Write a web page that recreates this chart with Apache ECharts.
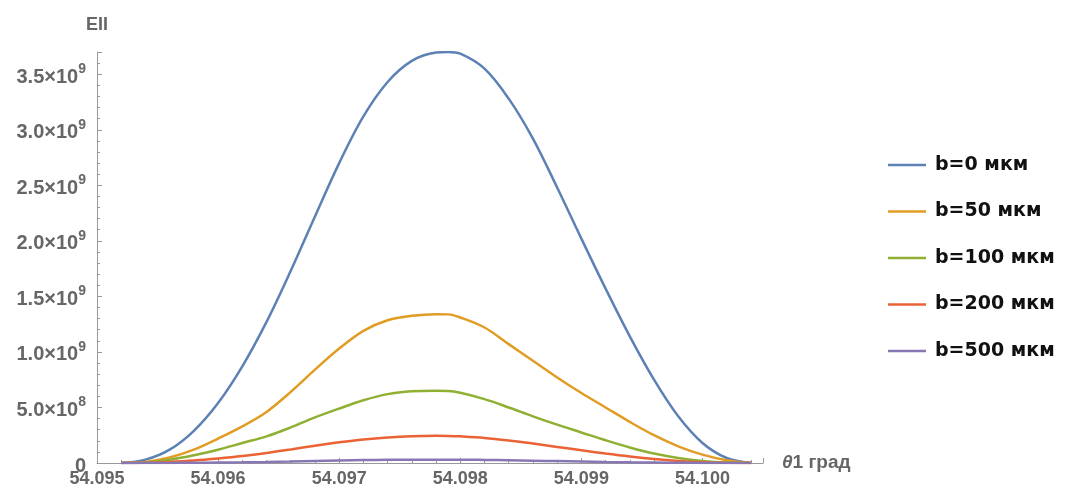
<!DOCTYPE html>
<html>
<head>
<meta charset="utf-8">
<script src="https://cdn.jsdelivr.net/npm/echarts@6/dist/echarts.min.js"></script>
<style>
  html, body { margin: 0; padding: 0; background: #fff; }
  #chart { width: 1072px; height: 488px; }
</style>
</head>
<body>
<div id="chart"></div>
<script>
// θ1, degrees
const theta = [
  54.0952, 54.0954, 54.0956, 54.0958, 54.0960, 54.0962, 54.0964, 54.0966, 54.0968,
  54.0970, 54.0972, 54.0974, 54.0976, 54.0978, 54.0979, 54.0980, 54.0982, 54.0984, 54.0986,
  54.0988, 54.0990, 54.0992, 54.0994, 54.0996, 54.0998, 54.1000, 54.1002, 54.1004
];
// values in units of 10^9
const b0 = [0, 0.03, 0.12, 0.29, 0.54, 0.87, 1.27, 1.73, 2.22, 2.70, 3.12, 3.43, 3.62, 3.695, 3.70,
  3.685, 3.55, 3.28, 2.92, 2.48, 2.02, 1.57, 1.14, 0.75, 0.42, 0.18, 0.045, 0];
const b50 = [0, 0.01, 0.05, 0.12, 0.22, 0.33, 0.46, 0.64, 0.84, 1.03, 1.19, 1.285, 1.325, 1.34, 1.338,
  1.31, 1.22, 1.07, 0.92, 0.77, 0.63, 0.50, 0.37, 0.25, 0.15, 0.075, 0.025, 0];
const b100 = [0, 0.005, 0.03, 0.07, 0.12, 0.18, 0.24, 0.32, 0.41, 0.49, 0.565, 0.62, 0.645, 0.65, 0.648,
  0.632, 0.575, 0.50, 0.42, 0.345, 0.275, 0.205, 0.14, 0.085, 0.045, 0.018, 0.004, 0];
const b200 = [0, 0.002, 0.01, 0.022, 0.04, 0.062, 0.09, 0.122, 0.155, 0.186, 0.212, 0.23, 0.241, 0.245, 0.244,
  0.24, 0.226, 0.203, 0.175, 0.145, 0.115, 0.085, 0.058, 0.035, 0.018, 0.007, 0.002, 0];
const b500 = [0, 0, 0.001, 0.002, 0.004, 0.006, 0.009, 0.013, 0.018, 0.022, 0.026, 0.029, 0.03, 0.03, 0.03,
  0.03, 0.028, 0.025, 0.021, 0.017, 0.013, 0.009, 0.006, 0.004, 0.002, 0.001, 0, 0];

const names = ['b=0 мкм', 'b=50 мкм', 'b=100 мкм', 'b=200 мкм', 'b=500 мкм'];
const colors = ['#5E81B5', '#E19C24', '#8FB032', '#EB6235', '#8778B3'];
const values = [b0, b50, b100, b200, b500];

const font = '"Liberation Sans", Arial, sans-serif';
const gray = '#666';
const axisGray = '#999';

function pairs(ys) {
  return theta.map(function (t, i) { return [t, ys[i]]; });
}

const series = names.map(function (n, i) {
  return {
    name: n,
    type: 'line',
    data: pairs(values[i]),
    smooth: 0.35,
    symbol: 'none',
    lineStyle: { width: 2.5, color: colors[i] },
    itemStyle: { color: colors[i] }
  };
});

const option = {
  animation: false,
  backgroundColor: '#fff',
  grid: { left: 97, right: 309, top: 52, bottom: 24 },
  legend: {
    orient: 'vertical',
    left: 883,
    top: 150,
    icon: 'rect',
    itemWidth: 38,
    itemHeight: 2.5,
    itemGap: 26.5,
    data: names,
    textStyle: {
      fontFamily: '"DejaVu Sans", sans-serif',
      fontWeight: 'bold',
      fontSize: 19,
      lineHeight: 20,
      color: '#111',
      padding: [0, 0, 0, 4]
    }
  },
  xAxis: {
    type: 'value',
    min: 54.095,
    max: 54.1005,
    interval: 0.001,
    name: '{i|θ}1 град',
    nameLocation: 'end',
    nameGap: 19,
    nameTextStyle: {
      fontFamily: font,
      fontWeight: 'bold',
      fontSize: 19,
      color: gray,
      rich: {
        i: { fontFamily: font, fontWeight: 'bold', fontStyle: 'italic', fontSize: 19, color: gray }
      }
    },
    splitLine: { show: false },
    axisLine: { lineStyle: { color: axisGray, width: 1 } },
    axisTick: { inside: true, length: 5, lineStyle: { color: axisGray } },
    minorTick: { show: true, splitNumber: 5, length: 3, lineStyle: { color: axisGray } },
    axisLabel: {
      margin: 7,
      fontFamily: font,
      fontWeight: 'bold',
      fontSize: 18,
      color: gray,
      formatter: function (v) {
        const k = Math.round(v * 1000);
        if (Math.abs(v * 1000 - k) > 1e-6) return '';
        return (k / 1000).toFixed(3);
      }
    }
  },
  yAxis: {
    type: 'value',
    min: 0,
    max: 3.7,
    interval: 0.5,
    name: 'EII',
    nameLocation: 'end',
    nameGap: 18,
    nameTextStyle: {
      fontFamily: font,
      fontWeight: 'bold',
      fontSize: 18,
      color: gray
    },
    splitLine: { show: false },
    axisLine: { show: true, lineStyle: { color: axisGray, width: 1 } },
    axisTick: { show: true, inside: true, length: 5, lineStyle: { color: axisGray } },
    minorTick: { show: true, splitNumber: 5, length: 3, lineStyle: { color: axisGray } },
    axisLabel: {
      margin: 11,
      fontFamily: font,
      fontWeight: 'bold',
      fontSize: 20,
      color: gray,
      formatter: function (v) {
        const k = Math.round(v * 10);
        if (Math.abs(v * 10 - k) > 1e-6 || k % 5 !== 0) return '';
        if (k === 0) return '{m|0}';
        if (v < 1) return '{m|' + (v * 10).toFixed(1) + '×10}{s|8}';
        return '{m|' + v.toFixed(1) + '×10}{s|9}';
      },
      rich: {
        m: { fontFamily: font, fontWeight: 'bold', fontSize: 20, color: gray, padding: [6, 0, 0, 0] },
        s: { fontFamily: font, fontWeight: 'bold', fontSize: 14, color: gray, padding: [0, 0, 10, 0] }
      }
    }
  },
  series: series
};

const myChart = echarts.init(document.getElementById('chart'));
myChart.setOption(option);
window.addEventListener('resize', function () {
  myChart.resize();
});
</script>
</body>
</html>
